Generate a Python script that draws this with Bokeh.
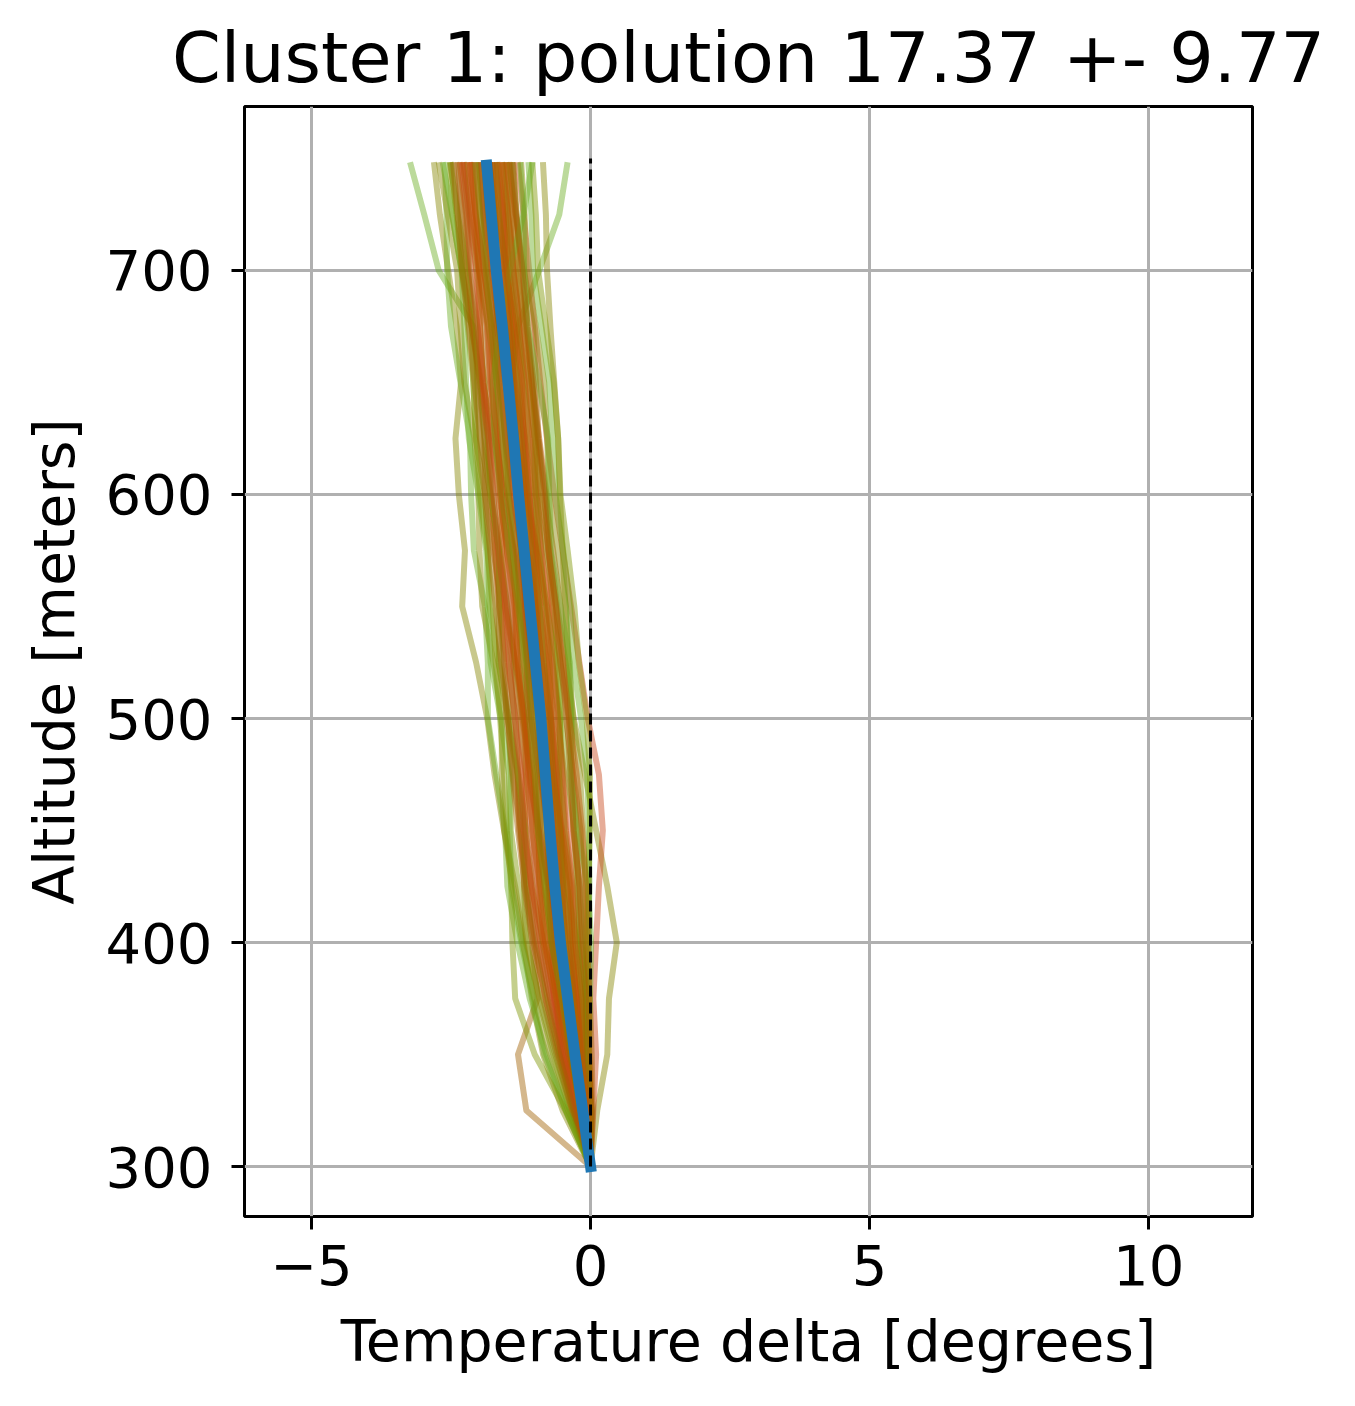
from bokeh.plotting import figure
from bokeh.models import Range1d, FixedTicker
from bokeh.embed import file_html
from bokeh.resources import INLINE

# ---------------- data ----------------
ALTITUDE = [300, 325, 350, 375, 400, 425, 450, 475, 500, 525,
            550, 575, 600, 625, 650, 675, 700, 725, 747]

MEAN_PROFILE = [0, -0.14, -0.28, -0.41, -0.54, -0.64, -0.73, -0.81, -0.89, -0.99,
                -1.09, -1.19, -1.29, -1.38, -1.48, -1.58, -1.69, -1.78, -1.86]

# individual soundings of the cluster (temperature delta, degrees)
P01 = [0, -0.20, -0.38, -0.55, -0.70, -0.82, -0.95, -1.08, -1.20, -1.35, -1.50, -1.62, -1.75, -1.88, -1.98, -2.10, -2.72, -2.98, -3.22]
P02 = [0, -0.10, -0.22, -0.35, -0.48, -0.60, -0.72, -0.85, -0.95, -1.05, -1.15, -1.25, -1.32, -1.40, -1.42, -1.30, -0.92, -0.56, -0.42]
P03 = [0, -0.50, -0.85, -1.05, -1.20, -1.35, -1.55, -1.72, -1.85, -2.05, -2.30, -2.25, -2.36, -2.42, -2.32, -2.40, -2.55, -2.70, -2.80]
P04 = [0, -1.15, -1.30, -0.95, -1.05, -1.15, -1.25, -1.30, -1.45, -1.55, -1.62, -1.70, -1.80, -1.90, -2.00, -2.10, -2.20, -2.30, -2.40]
P05 = [0, 0.12, 0.30, 0.33, 0.47, 0.30, 0.10, -0.10, -0.30, -0.45, -0.60, -0.72, -0.85, -0.95, -1.05, -1.15, -1.25, -1.32, -1.40]
P06 = [0, 0.05, 0.10, 0.05, 0.10, 0.15, 0.22, 0.15, -0.05, -0.20, -0.35, -0.50, -0.65, -0.78, -0.90, -1.00, -1.10, -1.20, -1.30]
P07 = [0, -0.05, -0.10, -0.15, -0.20, -0.22, -0.25, -0.30, -0.35, -0.40, -0.45, -0.50, -0.55, -0.58, -0.65, -0.72, -0.78, -0.80, -0.85]
P08 = [0, -0.44, -0.79, -1.09, -1.31, -1.49, -1.53, -1.69, -1.84, -1.84, -1.89, -2.09, -2.14, -2.16, -2.33, -2.50, -2.57, -2.58, -2.61]
P09 = [0, -0.40, -0.73, -1.01, -1.22, -1.39, -1.55, -1.59, -1.59, -1.74, -1.94, -1.99, -2.01, -2.08, -2.26, -2.33, -2.39, -2.56, -2.71]
P10 = [0, -0.37, -0.67, -0.93, -1.14, -1.29, -1.43, -1.43, -1.47, -1.65, -1.81, -1.84, -1.89, -2.06, -2.10, -2.13, -2.31, -2.48, -2.51]
P11 = [0, -0.33, -0.61, -0.85, -1.04, -1.19, -1.25, -1.39, -1.51, -1.54, -1.59, -1.74, -1.89, -1.90, -1.96, -2.13, -2.29, -2.33, -2.36]
P12 = [0, -0.32, -0.58, -0.81, -0.99, -1.14, -1.28, -1.31, -1.34, -1.49, -1.64, -1.71, -1.77, -1.83, -1.98, -2.13, -2.19, -2.23, -2.34]
P13 = [0, -0.30, -0.55, -0.77, -0.94, -1.09, -1.15, -1.29, -1.39, -1.43, -1.49, -1.64, -1.79, -1.84, -1.90, -2.03, -2.17, -2.22, -2.26]
P14 = [0, -0.28, -0.52, -0.73, -0.90, -1.04, -1.17, -1.21, -1.25, -1.39, -1.53, -1.59, -1.65, -1.78, -1.92, -1.98, -2.05, -2.18, -2.28]
P15 = [0, -0.26, -0.49, -0.69, -0.86, -0.99, -1.03, -1.16, -1.29, -1.37, -1.41, -1.49, -1.64, -1.78, -1.84, -1.90, -2.04, -2.16, -2.21]
P16 = [0, -0.25, -0.46, -0.65, -0.81, -0.94, -1.07, -1.11, -1.15, -1.29, -1.43, -1.49, -1.57, -1.70, -1.78, -1.84, -1.99, -2.12, -2.16]
P17 = [0, -0.23, -0.43, -0.61, -0.76, -0.89, -0.93, -1.06, -1.19, -1.24, -1.31, -1.47, -1.59, -1.62, -1.68, -1.83, -1.99, -2.04, -2.08]
P18 = [0, -0.21, -0.40, -0.57, -0.72, -0.84, -0.97, -1.01, -1.05, -1.19, -1.33, -1.39, -1.47, -1.60, -1.68, -1.76, -1.91, -1.98, -2.04]
P19 = [0, -0.19, -0.37, -0.53, -0.68, -0.79, -0.85, -0.96, -1.07, -1.14, -1.21, -1.34, -1.47, -1.53, -1.60, -1.73, -1.87, -1.93, -1.98]
P20 = [0, -0.18, -0.34, -0.49, -0.63, -0.74, -0.87, -0.91, -0.95, -1.09, -1.23, -1.29, -1.37, -1.50, -1.58, -1.64, -1.79, -1.92, -1.96]
P21 = [0, -0.16, -0.31, -0.45, -0.59, -0.69, -0.75, -0.87, -0.97, -1.03, -1.11, -1.24, -1.37, -1.43, -1.50, -1.63, -1.77, -1.83, -1.90]
P22 = [0, -0.12, -0.25, -0.37, -0.49, -0.59, -0.65, -0.77, -0.87, -0.93, -1.01, -1.14, -1.27, -1.33, -1.40, -1.53, -1.67, -1.73, -1.80]
P23 = [0, -0.10, -0.22, -0.33, -0.45, -0.54, -0.67, -0.71, -0.75, -0.89, -1.03, -1.09, -1.15, -1.28, -1.40, -1.46, -1.59, -1.72, -1.76]
P24 = [0, -0.09, -0.19, -0.29, -0.40, -0.49, -0.55, -0.66, -0.77, -0.84, -0.91, -1.04, -1.17, -1.22, -1.30, -1.43, -1.57, -1.63, -1.68]
P25 = [0, -0.07, -0.16, -0.25, -0.36, -0.44, -0.57, -0.61, -0.65, -0.79, -0.93, -0.99, -1.05, -1.18, -1.32, -1.38, -1.45, -1.58, -1.68]
P26 = [0, -0.05, -0.13, -0.21, -0.32, -0.39, -0.45, -0.57, -0.69, -0.74, -0.79, -0.93, -1.07, -1.13, -1.20, -1.33, -1.47, -1.52, -1.58]
P27 = [0, -0.03, -0.10, -0.17, -0.27, -0.34, -0.47, -0.51, -0.55, -0.69, -0.83, -0.89, -0.95, -1.08, -1.22, -1.28, -1.35, -1.48, -1.58]
P28 = [0, -0.02, -0.07, -0.13, -0.22, -0.29, -0.35, -0.47, -0.59, -0.64, -0.69, -0.83, -0.97, -1.03, -1.10, -1.24, -1.39, -1.44, -1.50]
P29 = [0, 0.00, -0.04, -0.09, -0.18, -0.24, -0.29, -0.41, -0.53, -0.59, -0.65, -0.79, -0.93, -0.98, -1.04, -1.18, -1.33, -1.38, -1.44]
P30 = [0, 0.02, -0.01, -0.05, -0.14, -0.19, -0.31, -0.33, -0.39, -0.54, -0.69, -0.74, -0.79, -0.92, -1.06, -1.13, -1.21, -1.34, -1.46]
P31 = [0, 0.04, 0.02, -0.01, -0.09, -0.14, -0.18, -0.31, -0.44, -0.49, -0.54, -0.67, -0.81, -0.93, -0.98, -1.03, -1.19, -1.33, -1.38]
P32 = [0, 0.00, -0.03, -0.06, -0.09, -0.09, -0.13, -0.19, -0.31, -0.39, -0.44, -0.59, -0.74, -0.78, -0.83, -0.98, -1.14, -1.18, -1.24]
P33 = [0, -0.02, -0.06, -0.06, -0.04, -0.02, -0.03, -0.06, -0.17, -0.31, -0.37, -0.49, -0.63, -0.68, -0.74, -0.88, -1.03, -1.06, -1.11]
P34 = [0, -0.04, -0.08, -0.09, -0.06, -0.04, -0.01, -0.01, -0.07, -0.21, -0.29, -0.41, -0.54, -0.58, -0.66, -0.80, -0.94, -0.98, -1.04]
P35 = [0, -0.24, -0.48, -0.66, -0.69, -0.74, -0.93, -1.11, -1.14, -1.14, -1.19, -1.37, -1.57, -1.68, -1.70, -1.73, -1.89, -2.06, -2.11]
P36 = [0, -0.09, -0.28, -0.46, -0.49, -0.49, -0.53, -0.71, -0.89, -0.94, -0.94, -0.99, -1.17, -1.33, -1.38, -1.40, -1.49, -1.66, -1.81]
P37 = [0, -0.29, -0.53, -0.61, -0.84, -1.06, -1.18, -1.16, -1.17, -1.34, -1.54, -1.59, -1.59, -1.73, -1.93, -1.98, -2.01, -2.13, -2.26]
P38 = [0, -0.06, -0.13, -0.16, -0.24, -0.42, -0.55, -0.56, -0.54, -0.61, -0.79, -0.94, -0.99, -1.00, -1.13, -1.30, -1.44, -1.48, -1.51]
P39 = [0, -0.19, -0.23, -0.31, -0.54, -0.74, -0.78, -0.76, -0.79, -0.99, -1.17, -1.19, -1.21, -1.33, -1.53, -1.68, -1.69, -1.70, -1.81]
P40 = [0, -0.16, -0.36, -0.56, -0.66, -0.69, -0.75, -0.91, -1.07, -1.14, -1.17, -1.24, -1.39, -1.53, -1.60, -1.63, -1.77, -1.90, -1.96]
P41 = [0, -0.14, -0.20, -0.26, -0.32, -0.36, -0.51, -0.66, -0.71, -0.74, -0.81, -0.97, -1.14, -1.20, -1.23, -1.36, -1.51, -1.56, -1.61]
P42 = [0, -0.34, -0.63, -0.91, -1.16, -1.19, -1.18, -1.31, -1.49, -1.64, -1.64, -1.64, -1.79, -1.98, -2.03, -2.06, -2.21, -2.38, -2.51]
P43 = [0, -0.04, -0.03, -0.01, 0.01, -0.04, -0.23, -0.36, -0.34, -0.37, -0.54, -0.71, -0.74, -0.76, -0.93, -1.13, -1.19, -1.20, -1.26]
P44 = [0, -0.44, -0.83, -1.03, -1.24, -1.42, -1.45, -1.46, -1.61, -1.79, -1.84, -1.87, -2.01, -2.18, -2.23, -2.26, -2.31, -2.48, -2.64]
P45 = [0, -0.08, -0.16, -0.25, -0.42, -0.56, -0.59, -0.61, -0.71, -0.87, -0.99, -1.04, -1.09, -1.20, -1.36, -1.48, -1.54, -1.58, -1.71]
P46 = [0, -0.24, -0.46, -0.63, -0.84, -0.92, -0.93, -1.03, -1.19, -1.31, -1.34, -1.39, -1.54, -1.70, -1.76, -1.78, -1.91, -2.06, -2.16]
P47 = [0, -0.11, -0.22, -0.39, -0.58, -0.62, -0.65, -0.76, -0.89, -0.95, -0.99, -1.13, -1.29, -1.34, -1.40, -1.53, -1.69, -1.74, -1.80]
P48 = [0, -0.45, -1.00, -1.35, -1.40, -1.42, -1.50, -1.55, -1.62, -1.70, -1.75, -1.85, -1.98, -2.05, -2.10, -2.20, -2.30, -2.40, -2.50]
P49 = [0, 0.00, -0.02, -0.03, -0.05, -0.08, -0.15, -0.25, -0.38, -0.50, -0.62, -0.75, -0.88, -1.00, -1.10, -1.20, -1.30, -1.40, -1.50]
P50 = [0, -0.10, -0.20, -0.32, -0.45, -0.58, -0.72, -0.88, -1.00, -1.15, -1.30, -1.45, -1.60, -1.72, -1.75, -1.62, -1.45, -1.20, -1.05]
P51 = [0, -0.22, -0.40, -0.58, -0.80, -0.90, -1.05, -1.08, -1.22, -1.30, -1.36, -1.50, -1.62, -1.66, -1.80, -1.86, -2.00, -2.06, -2.14]
P52 = [0, -0.10, -0.18, -0.30, -0.36, -0.50, -0.55, -0.68, -0.72, -0.84, -0.92, -1.06, -1.12, -1.24, -1.32, -1.44, -1.52, -1.64, -1.70]
P53 = [0, -0.18, -0.36, -0.50, -0.70, -0.76, -0.90, -0.94, -1.06, -1.12, -1.26, -1.32, -1.46, -1.52, -1.64, -1.72, -1.84, -1.92, -2.00]
P54 = [0, -0.04, -0.14, -0.16, -0.28, -0.32, -0.44, -0.50, -0.58, -0.68, -0.76, -0.88, -0.98, -1.10, -1.18, -1.28, -1.38, -1.48, -1.56]
P55 = [0, -0.26, -0.50, -0.72, -0.96, -1.06, -1.20, -1.24, -1.36, -1.46, -1.52, -1.66, -1.74, -1.82, -1.94, -2.02, -2.14, -2.22, -2.30]
P56 = [0, -0.12, -0.30, -0.38, -0.56, -0.62, -0.76, -0.78, -0.92, -0.96, -1.12, -1.16, -1.32, -1.36, -1.50, -1.56, -1.72, -1.76, -1.86]
P57 = [0, 0.02, -0.06, -0.08, -0.16, -0.20, -0.30, -0.36, -0.42, -0.54, -0.62, -0.76, -0.82, -0.94, -1.02, -1.14, -1.22, -1.34, -1.40]
P58 = [0, -0.20, -0.34, -0.52, -0.70, -0.82, -0.94, -1.00, -1.10, -1.20, -1.28, -1.40, -1.48, -1.58, -1.68, -1.78, -1.88, -1.98, -2.06]
P59 = [0, -0.08, -0.22, -0.28, -0.46, -0.52, -0.66, -0.70, -0.80, -0.88, -0.98, -1.10, -1.18, -1.28, -1.38, -1.46, -1.58, -1.68, -1.76]
P60 = [0, -0.16, -0.28, -0.44, -0.58, -0.70, -0.78, -0.88, -0.94, -1.06, -1.14, -1.24, -1.34, -1.44, -1.52, -1.64, -1.72, -1.84, -1.90]
P61 = [0, -0.30, -0.56, -0.80, -1.02, -1.18, -1.30, -1.40, -1.48, -1.60, -1.70, -1.80, -1.90, -1.98, -2.08, -2.18, -2.30, -2.38, -2.46]
P62 = [0, -0.06, -0.18, -0.24, -0.36, -0.42, -0.54, -0.60, -0.70, -0.78, -0.90, -0.98, -1.10, -1.18, -1.28, -1.38, -1.50, -1.56, -1.66]

PROFILES = [P01, P02, P03, P04, P05, P06, P07, P08, P09, P10,
            P11, P12, P13, P14, P15, P16, P17, P18, P19, P20,
            P21, P22, P23, P24, P25, P26, P27, P28, P29, P30,
            P31, P32, P33, P34, P35, P36, P37, P38, P39, P40,
            P41, P42, P43, P44, P45, P46, P47, P48, P49, P50,
            P51, P52, P53, P54, P55, P56, P57, P58, P59, P60,
            P61, P62]

# colour of each sounding (green = low pollution ... red = high pollution)
G1, G2, OL, BR, OR, RD = "#6aae22", "#7c9400", "#868400", "#a06000", "#bf5200", "#c8461a"
PROFILE_COLORS = [G1, G1, OL, BR, OL, RD, OL, G1, OL, G2,
                  BR, OR, OL, OR, BR, RD, OL, OR, G2, BR,
                  OR, RD, OR, BR, OL, OR, OL, RD, G2, OR,
                  BR, OL, G1, G2, RD, OR, OR, G2, BR, RD,
                  OR, OL, G1, G1, RD, OR, BR, G2, OR, G1,
                  OR, OL, BR, OR, RD, OR, BR, OL, OR, BR,
                  BR, OR]

ZERO_LINE_X = [0, 0]
ZERO_LINE_Y = [300, 750]

X_TICKS = [-5, 0, 5, 10]
X_TICK_LABELS = {-5: "\u22125", 0: "0", 5: "5", 10: "10"}
Y_TICKS = [300, 400, 500, 600, 700]

TITLE = "Cluster 1: polution 17.37 +- 9.77"
X_LABEL = "Temperature delta [degrees]"
Y_LABEL = "Altitude [meters]"

# ---------------- figure ----------------
FONT = "DejaVu Sans"

p = figure(frame_width=1008, frame_height=1110,
           x_range=Range1d(-6.2, 11.86), y_range=Range1d(277.7, 773.2),
           output_backend="svg", toolbar_location=None,
           min_border_left=244, min_border_right=95,
           min_border_top=106, min_border_bottom=182,
           background_fill_color="white", border_fill_color="white")

p.title.text = TITLE
p.title.text_font = FONT
p.title.text_font_size = "70px"
p.title.text_font_style = "normal"
p.title.text_color = "black"
p.title.align = "center"
p.title.standoff = 15

p.outline_line_color = "black"
p.outline_line_width = 3
p.outline_line_alpha = 1.0

p.xaxis.ticker = FixedTicker(ticks=X_TICKS)
p.xaxis.major_label_overrides = X_TICK_LABELS
p.yaxis.ticker = FixedTicker(ticks=Y_TICKS)

for ax in (p.xaxis[0], p.yaxis[0]):
    ax.axis_line_color = None
    ax.major_tick_line_color = "black"
    ax.major_tick_line_width = 3
    ax.major_tick_out = 13
    ax.major_tick_in = 0
    ax.minor_tick_line_color = None
    ax.major_label_text_font = FONT
    ax.major_label_text_font_size = "56px"
    ax.major_label_text_color = "black"
    ax.axis_label_text_font = FONT
    ax.axis_label_text_font_size = "57px"
    ax.axis_label_text_font_style = "normal"
    ax.axis_label_text_color = "black"

p.xaxis.axis_label = X_LABEL
p.yaxis.axis_label = Y_LABEL
p.xaxis.major_label_standoff = 15
p.yaxis.major_label_standoff = 19
p.xaxis.axis_label_standoff = 20
p.yaxis.axis_label_standoff = 16

p.xgrid.ticker = FixedTicker(ticks=X_TICKS)
p.ygrid.ticker = FixedTicker(ticks=Y_TICKS)
for g in (p.xgrid[0], p.ygrid[0]):
    g.grid_line_color = "#b0b0b0"
    g.grid_line_width = 3

for prof, col in zip(PROFILES, PROFILE_COLORS):
    p.line(x=prof, y=ALTITUDE, line_color=col, line_alpha=0.45,
           line_width=6, line_join="round", line_cap="square")

p.line(x=MEAN_PROFILE, y=ALTITUDE, line_color="#1f77b4", line_width=11,
       line_join="round", line_cap="square")

p.line(x=ZERO_LINE_X, y=ZERO_LINE_Y, line_color="black", line_width=3,
       line_dash="11 6")

open("out.html", "w").write(file_html(p, INLINE))
